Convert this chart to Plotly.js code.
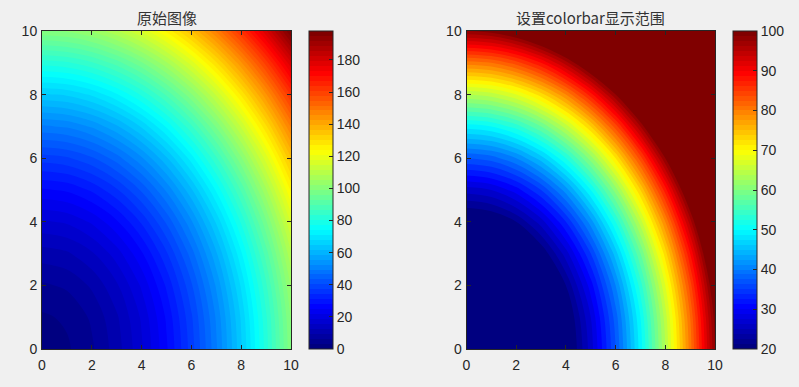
<!DOCTYPE html>
<html>
<head>
<meta charset="utf-8">
<script src="https://cdn.plot.ly/plotly-3.0.1.min.js"></script>
<style>html,body{margin:0;padding:0;background:#f0f0f0;}#chart{width:799px;height:387px;}</style>
</head>
<body>
<div id="chart"></div>
<script>
// Grid coordinates
var xVals = [0, 1, 2, 3, 4, 5, 6, 7, 8, 9, 10];
var yVals = [0, 1, 2, 3, 4, 5, 6, 7, 8, 9, 10];
// Surface values (rows = y, columns = x)
var zVals = [
  [0, 1, 4, 9, 16, 25, 36, 49, 64, 81, 100],
  [1, 2, 5, 10, 17, 26, 37, 50, 65, 82, 101],
  [4, 5, 8, 13, 20, 29, 40, 53, 68, 85, 104],
  [9, 10, 13, 18, 25, 34, 45, 58, 73, 90, 109],
  [16, 17, 20, 25, 32, 41, 52, 65, 80, 97, 116],
  [25, 26, 29, 34, 41, 50, 61, 74, 89, 106, 125],
  [36, 37, 40, 45, 52, 61, 72, 85, 100, 117, 136],
  [49, 50, 53, 58, 65, 74, 85, 98, 113, 130, 149],
  [64, 65, 68, 73, 80, 89, 100, 113, 128, 145, 164],
  [81, 82, 85, 90, 97, 106, 117, 130, 145, 162, 181],
  [100, 101, 104, 109, 116, 125, 136, 149, 164, 181, 200]
];
var titles = ['原始图像', '设置colorbar显示范围'];
var leftColorRange = [0, 198];
var rightColorRange = [20, 100];
var leftLevels = {start: 1.5, end: 196.5, size: 3};
var rightLevels = {start: 20, end: 100, size: 2};
var xTicks = [0, 2, 4, 6, 8, 10];
var yTicks = [0, 2, 4, 6, 8, 10];

// MATLAB jet colormap
var jetStops = [
  [0, [0, 0, 128]], [0.125, [0, 0, 255]], [0.375, [0, 255, 255]],
  [0.625, [255, 255, 0]], [0.875, [255, 0, 0]], [1, [128, 0, 0]]
];
var jet = jetStops.map(function (s) { return [s[0], 'rgb(' + s[1].join(',') + ')']; });
function jetAt(t) {
  for (var i = 1; i < jetStops.length; i++) {
    if (t <= jetStops[i][0]) {
      var a = jetStops[i - 1], b = jetStops[i];
      var f = (t - a[0]) / (b[0] - a[0]);
      return 'rgb(' + [0, 1, 2].map(function (k) { return Math.round(a[1][k] + f * (b[1][k] - a[1][k])); }).join(',') + ')';
    }
  }
  return 'rgb(128,0,0)';
}
// 64-entry stepped version for the colorbars (like jet(64))
var jet64 = [];
for (var k = 0; k < 64; k++) {
  var c = jetAt(k / 63);
  jet64.push([k / 64, c]);
  jet64.push([(k + 1) / 64, c]);
}

var W = 799, H = 387;
var ink = '#262626';
var tickFont = {family: 'Liberation Sans, Arial, sans-serif', size: 14, color: ink};

function cbar(leftPx, dtick, tick0) {
  return {
    x: leftPx / W, xanchor: 'left', xref: 'paper', xpad: 0,
    y: 1 - 190 / H, yanchor: 'middle', ypad: 0,
    len: 318, lenmode: 'pixels',
    thickness: 24, thicknessmode: 'pixels',
    outlinewidth: 1, outlinecolor: ink,
    ticks: 'inside', ticklen: 4, tickcolor: ink, tickwidth: 1,
    dtick: dtick, tick0: tick0,
    tickfont: tickFont
  };
}

var traces = [
  {
    type: 'contour', x: xVals, y: yVals, z: zVals,
    xaxis: 'x', yaxis: 'y',
    colorscale: jet, autocontour: false, showscale: false,
    contours: {start: leftLevels.start, end: leftLevels.end, size: leftLevels.size, coloring: 'fill', showlines: false},
    line: {width: 0},
    hoverinfo: 'skip'
  },
  {
    type: 'contour', x: xVals, y: yVals, z: zVals,
    xaxis: 'x2', yaxis: 'y2',
    colorscale: jet, autocontour: false, showscale: false,
    contours: {start: rightLevels.start, end: rightLevels.end, size: rightLevels.size, coloring: 'fill', showlines: false},
    line: {width: 0},
    hoverinfo: 'skip'
  },
  {
    type: 'scatter', mode: 'markers', x: [null, null], y: [null, null],
    xaxis: 'x', yaxis: 'y', hoverinfo: 'skip',
    marker: {color: leftColorRange, cmin: leftColorRange[0], cmax: leftColorRange[1],
      colorscale: jet64, showscale: true, colorbar: cbar(309, 20, 0)}
  },
  {
    type: 'scatter', mode: 'markers', x: [null, null], y: [null, null],
    xaxis: 'x2', yaxis: 'y2', hoverinfo: 'skip',
    marker: {color: rightColorRange, cmin: rightColorRange[0], cmax: rightColorRange[1],
      colorscale: jet64, showscale: true, colorbar: cbar(733, 10, 20)}
  }
];

function ax(domain, anchor, ticks, standoff) {
  return {
    domain: domain, anchor: anchor, range: [0, 10], autorange: false,
    tickvals: ticks, ticktext: ticks.map(String),
    showline: true, linecolor: ink, linewidth: 1, mirror: 'ticks',
    ticks: 'inside', ticklen: 4, tickcolor: ink, tickwidth: 1,
    ticklabelstandoff: standoff,
    showgrid: false, zeroline: false,
    tickfont: tickFont
  };
}
var yDom = [1 - 349 / H, 1 - 31 / H];
var layout = {
  width: W, height: H,
  paper_bgcolor: '#f0f0f0', plot_bgcolor: '#f0f0f0',
  margin: {l: 0, r: 0, t: 0, b: 0},
  showlegend: false,
  xaxis: ax([42 / W, 291 / W], 'y', xTicks, 3),
  yaxis: ax(yDom, 'x', yTicks, 1),
  xaxis2: ax([466.5 / W, 715 / W], 'y2', xTicks, 3),
  yaxis2: ax(yDom, 'x2', yTicks, 1),
  annotations: [
    {text: titles[0], xref: 'paper', yref: 'paper', x: (42 + 291) / 2 / W, y: 1 - 17 / H,
     xanchor: 'center', yanchor: 'middle', showarrow: false,
     font: {family: 'Noto Sans CJK SC, sans-serif', size: 15, color: '#333333'}},
    {text: titles[1], xref: 'paper', yref: 'paper', x: (466.5 + 715) / 2 / W, y: 1 - 17 / H,
     xanchor: 'center', yanchor: 'middle', showarrow: false,
     font: {family: 'Noto Sans CJK SC, sans-serif', size: 15, color: '#333333'}}
  ]
};
Plotly.newPlot('chart', traces, layout, {displayModeBar: false, staticPlot: true});
</script>
</body>
</html>
